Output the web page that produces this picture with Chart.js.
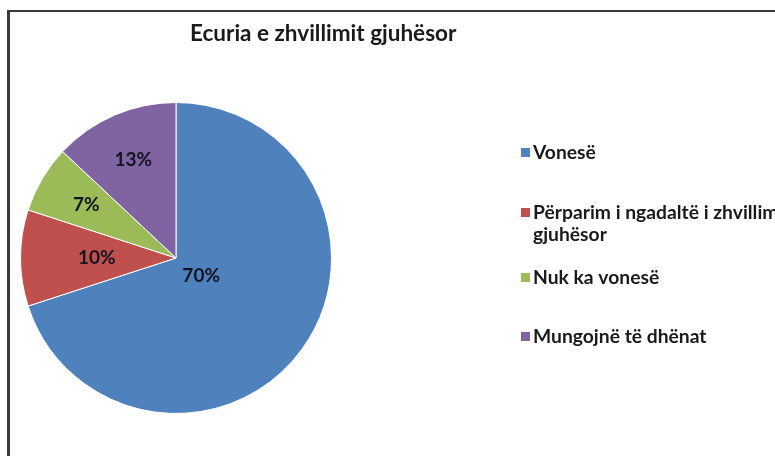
<!DOCTYPE html>
<html>
<head>
<meta charset="utf-8">
<script src="https://cdn.jsdelivr.net/npm/chart.js@4.4.0/dist/chart.umd.min.js"></script>
<style>
  html, body { margin: 0; padding: 0; background: #fff; }
  #wrap { position: relative; width: 775px; height: 456px; overflow: hidden; }
  #frame { position: absolute; left: 7px; top: 10px; width: 800px; height: 500px;
           border-top: 2px solid #3a3a3a; border-left: 3px solid #3a3a3a; box-sizing: border-box; }
  canvas { position: absolute; left: 0; top: 0; }
</style>
</head>
<body>
<div id="wrap">
  <div id="frame"></div>
  <canvas id="c" width="775" height="456"></canvas>
</div>
<script>
const chartTitle = 'Ecuria e zhvillimit gjuhësor';
const categories = ['Vonesë', ['Përparim i ngadaltë i zhvillimit', 'gjuhësor'], 'Nuk ka vonesë', 'Mungojnë të dhënat'];
const percentValues = [70, 10, 7, 13];
const sliceColors = ['#4F81BD', '#C0504D', '#9BBB59', '#8064A2'];

const labelRadiusFraction = [0.2, 0.51, 0.67, 0.69];

const pieLabels = {
  id: 'pieLabels',
  afterDatasetsDraw(chart) {
    const ctx = chart.ctx;
    const meta = chart.getDatasetMeta(0);
    ctx.save();
    ctx.font = 'bold 19px Lato, "Open Sans", sans-serif';
    ctx.fillStyle = '#141420';
    ctx.textAlign = 'center';
    ctx.textBaseline = 'middle';
    meta.data.forEach((arc, i) => {
      const p = arc.getProps(['x', 'y', 'startAngle', 'endAngle', 'outerRadius'], true);
      const mid = (p.startAngle + p.endAngle) / 2;
      const r = p.outerRadius * labelRadiusFraction[i];
      ctx.fillText(percentValues[i] + '%', p.x + Math.cos(mid) * r, p.y + Math.sin(mid) * r);
    });
    ctx.restore();
  }
};

const customTitleLegend = {
  id: 'customTitleLegend',
  afterDraw(chart) {
    const ctx = chart.ctx;
    ctx.save();
    ctx.fillStyle = '#1a1a1a';
    ctx.font = 'bold 22.5px Lato, "Open Sans", sans-serif';
    ctx.textAlign = 'left';
    ctx.textBaseline = 'middle';
    ctx.fillText(chartTitle, 190, 34);

    const rowY = [153, 213, 278, 337];
    ctx.font = 'bold 19.3px Lato, "Open Sans", sans-serif';
    chart.data.labels.forEach((lab, i) => {
      ctx.fillStyle = sliceColors[i];
      ctx.fillRect(521, rowY[i] - 5, 9, 9);
      ctx.fillStyle = '#1a1a1a';
      const lines = Array.isArray(lab) ? lab : [lab];
      lines.forEach((ln, j) => {
        ctx.fillText(ln, 533, rowY[i] + j * 22);
      });
    });
    ctx.restore();
  }
};

new Chart(document.getElementById('c'), {
  type: 'pie',
  data: {
    labels: categories,
    datasets: [{
      data: percentValues,
      backgroundColor: sliceColors,
      borderColor: '#ffffff',
      borderWidth: 1
    }]
  },
  options: {
    responsive: false,
    animation: false,
    layout: { padding: { left: 20, right: 443, top: 102, bottom: 42 } },
    plugins: {
      legend: { display: false },
      title: { display: false },
      tooltip: { enabled: false }
    }
  },
  plugins: [pieLabels, customTitleLegend]
});
</script>
</body>
</html>
